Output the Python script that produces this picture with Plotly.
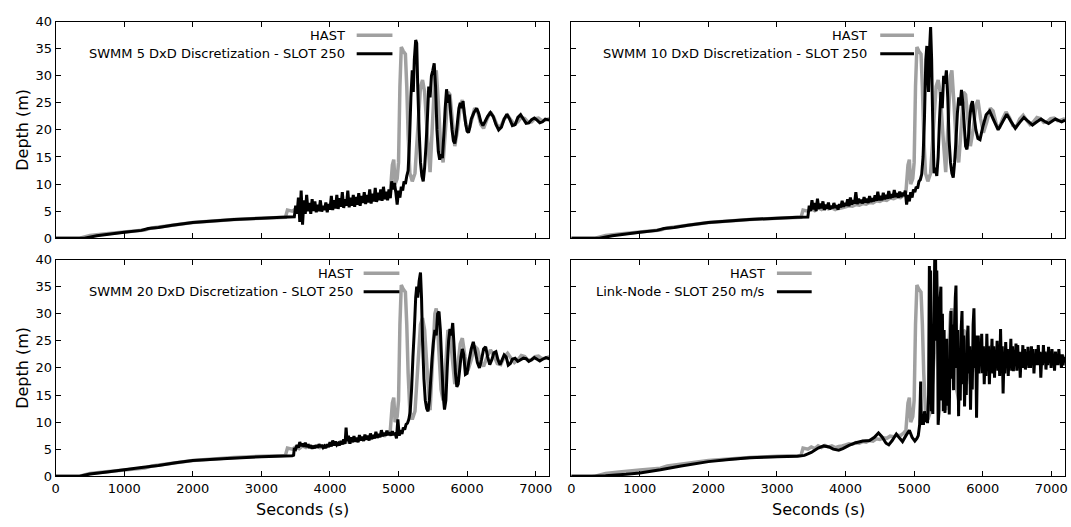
import plotly.graph_objects as go

W, H = 1071, 527

# ---------------- data ----------------
HAST = [
    (0, 0), (350, 0), (500, 0.5), (700, 0.8), (1000, 1.15), (1300, 1.5), (1400, 1.9), (1700, 2.4),
    (2000, 2.9), (2300, 3.2), (2600, 3.45), (3000, 3.7), (3350, 3.85), (3380, 5.2), (3450, 5.0),
    (3500, 5.4), (3550, 5.1), (3600, 5.6), (3650, 5.3), (3700, 5.7), (3750, 5.4), (3800, 5.6),
    (3850, 5.3), (3900, 5.5), (3950, 5.6), (4000, 5.8), (4050, 6.0), (4100, 5.9), (4150, 6.2),
    (4200, 6.1), (4250, 6.4), (4300, 6.3), (4350, 6.6), (4400, 6.5), (4450, 6.9), (4500, 6.8),
    (4550, 7.1), (4600, 7.0), (4650, 7.4), (4700, 7.3), (4750, 7.6), (4800, 7.5), (4850, 8.0),
    (4880, 8.5), (4910, 13.5), (4930, 14.5), (4950, 10), (4980, 11), (5000, 14), (5020, 28),
    (5040, 35.3), (5070, 34.5), (5100, 34), (5120, 28), (5140, 19), (5165, 12), (5200, 10.5),
    (5240, 12), (5280, 20), (5320, 28), (5350, 29.2), (5380, 27), (5420, 19), (5460, 12.2),
    (5490, 20), (5530, 30), (5550, 31), (5580, 25), (5620, 16), (5650, 14), (5690, 21), (5720, 27),
    (5750, 26.5), (5790, 21), (5820, 17), (5860, 20), (5900, 24.5), (5930, 25.5), (5970, 22),
    (6010, 19.5), (6060, 21.5), (6110, 24), (6150, 23.5), (6200, 21), (6240, 20.3), (6290, 22),
    (6340, 23.3), (6390, 22.3), (6440, 20.8), (6490, 20.6), (6540, 22), (6590, 22.7), (6640, 21.8),
    (6690, 21), (6740, 21.5), (6790, 22.3), (6840, 22.1), (6890, 21.4), (6940, 21.5), (6990, 22.1),
    (7040, 22.2), (7090, 21.7), (7140, 21.8), (7200, 22.1),
]

SWMM5 = [
    (0, 0), (420, 0), (600, 0.45), (800, 0.8), (1000, 1.1), (1250, 1.45), (1350, 1.8), (1500, 2.0),
    (1700, 2.4), (2000, 2.9), (2300, 3.2), (2600, 3.45), (3000, 3.7), (3300, 3.85), (3480, 3.95),
    (3500, 6.0), (3520, 4.5), (3540, 7.5), (3560, 3.0), (3580, 8.8), (3600, 2.5), (3620, 7.0),
    (3640, 4.5), (3660, 8.0), (3680, 5.0), (3700, 6.5), (3720, 4.5), (3740, 7.2), (3760, 5.0),
    (3780, 6.8), (3800, 4.8), (3820, 6.2), (3840, 5.0), (3860, 7.0), (3880, 4.9), (3900, 6.0),
    (3920, 5.2), (3940, 6.6), (3960, 4.8), (3980, 6.3), (4000, 5.3), (4020, 7.8), (4040, 5.2),
    (4060, 7.0), (4080, 5.5), (4100, 8.0), (4120, 5.4), (4140, 7.4), (4160, 5.8), (4180, 8.5),
    (4200, 5.6), (4220, 7.2), (4240, 6.0), (4260, 8.8), (4280, 5.7), (4300, 7.5), (4320, 6.0),
    (4340, 8.0), (4360, 5.8), (4380, 7.6), (4400, 6.2), (4420, 8.3), (4440, 6.0), (4460, 7.8),
    (4480, 6.5), (4500, 8.5), (4520, 6.3), (4540, 8.0), (4560, 6.6), (4580, 9.0), (4600, 6.4),
    (4620, 8.2), (4640, 6.8), (4660, 9.3), (4680, 6.7), (4700, 8.4), (4720, 7.0), (4740, 9.0),
    (4760, 6.9), (4780, 9.5), (4800, 7.2), (4820, 8.6), (4840, 7.0), (4860, 9.0), (4880, 7.4),
    (4900, 10.5), (4920, 9.0), (4940, 10.2), (4960, 8.5), (4980, 6.2), (5000, 8.8), (5020, 7.5),
    (5040, 9.5), (5060, 8.8), (5080, 10.5), (5100, 10.0), (5120, 11.5), (5140, 12.5), (5160, 18),
    (5180, 26), (5200, 31), (5215, 27), (5230, 33), (5250, 36.6), (5265, 36), (5280, 28), (5300, 20),
    (5320, 14), (5340, 11.5), (5360, 10.5), (5380, 13), (5400, 17), (5420, 22), (5440, 28),
    (5460, 26), (5480, 30), (5500, 31), (5520, 32.3), (5540, 28), (5560, 20), (5580, 16),
    (5600, 14.5), (5620, 15.5), (5640, 14.8), (5660, 19), (5680, 24), (5700, 27.5), (5720, 25),
    (5740, 26.5), (5760, 23), (5780, 20), (5800, 18), (5820, 17.5), (5840, 19), (5860, 21.5),
    (5880, 24), (5900, 25), (5920, 24), (5940, 25.3), (5960, 23), (5980, 21), (6000, 19.8),
    (6020, 19.5), (6040, 20.5), (6060, 22), (6100, 23.2), (6140, 24), (6170, 23), (6200, 21.5),
    (6230, 20.8), (6260, 21.5), (6300, 22.5), (6340, 23.2), (6380, 22.5), (6420, 21.0), (6460, 20.0),
    (6500, 20.5), (6540, 22), (6580, 22.9), (6620, 22), (6660, 20.8), (6700, 21), (6740, 22.3),
    (6780, 22.8), (6820, 22), (6860, 21.2), (6900, 21.3), (6940, 21.9), (6980, 22.2), (7020, 21.8),
    (7060, 21.3), (7100, 21.5), (7140, 22), (7200, 21.8),
]

SWMM10 = [
    (0, 0), (410, 0), (600, 0.45), (800, 0.8), (1000, 1.1), (1250, 1.45), (1350, 1.8), (1500, 2.0),
    (1700, 2.4), (2000, 2.9), (2300, 3.2), (2600, 3.45), (3000, 3.7), (3300, 3.85), (3450, 3.9),
    (3470, 6.0), (3490, 5.0), (3510, 7.0), (3530, 5.3), (3550, 6.5), (3570, 5.0), (3590, 7.3),
    (3610, 5.4), (3630, 6.4), (3650, 5.5), (3670, 6.8), (3690, 5.2), (3710, 6.2), (3730, 5.5),
    (3750, 6.6), (3770, 5.3), (3790, 6.0), (3810, 5.5), (3830, 6.5), (3850, 5.6), (3870, 6.1),
    (3890, 5.3), (3910, 6.3), (3930, 5.7), (3950, 6.9), (3970, 5.8), (3990, 6.5), (4010, 6.0),
    (4030, 7.2), (4050, 5.9), (4070, 7.5), (4090, 6.2), (4110, 7.0), (4130, 6.4), (4150, 8.5),
    (4170, 6.3), (4190, 7.3), (4210, 6.5), (4230, 7.1), (4250, 6.4), (4270, 7.6), (4290, 6.6),
    (4310, 7.3), (4330, 6.5), (4350, 7.8), (4370, 6.7), (4390, 7.4), (4410, 6.8), (4430, 7.9),
    (4450, 6.9), (4470, 8.6), (4490, 7.0), (4510, 7.8), (4530, 7.0), (4550, 8.4), (4570, 7.2),
    (4590, 8.0), (4610, 7.3), (4630, 8.7), (4650, 7.4), (4670, 8.1), (4690, 7.5), (4710, 8.9),
    (4730, 7.6), (4750, 8.3), (4770, 7.5), (4790, 8.6), (4810, 7.6), (4830, 8.4), (4850, 7.8),
    (4870, 8.8), (4890, 6.2), (4910, 8.0), (4930, 6.8), (4950, 8.5), (4970, 7.5), (4990, 9.0),
    (5010, 8.5), (5030, 9.5), (5050, 9.2), (5070, 10.5), (5090, 10.8), (5110, 11.8), (5130, 15),
    (5150, 22), (5170, 33), (5185, 35.5), (5200, 30), (5210, 27), (5225, 35), (5240, 39),
    (5255, 33), (5270, 22), (5290, 12), (5310, 13), (5330, 11.5), (5350, 15), (5370, 22),
    (5390, 27), (5410, 24), (5430, 30), (5450, 28.5), (5470, 31), (5490, 26), (5510, 18),
    (5530, 14), (5550, 12), (5570, 11.2), (5590, 14), (5610, 18), (5630, 23), (5650, 26),
    (5670, 24.5), (5690, 27.4), (5710, 25), (5730, 21), (5750, 17), (5770, 16.4), (5790, 18.5),
    (5810, 22), (5830, 24.5), (5850, 25.3), (5870, 23), (5900, 20), (5930, 18.4), (5960, 18.2),
    (6000, 20.5), (6050, 22.8), (6100, 23.5), (6160, 21.8), (6225, 20), (6290, 21.5), (6350, 22.9),
    (6410, 21.6), (6475, 20.3), (6540, 21.4), (6600, 22.3), (6660, 21.6), (6725, 20.9), (6790, 21.5),
    (6850, 22.0), (6900, 21.6), (6960, 21.2), (7010, 21.6), (7060, 22.0), (7110, 21.7), (7150, 21.5),
    (7200, 21.8),
]

SWMM20 = [
    (0, 0), (350, 0), (500, 0.4), (750, 0.8), (1000, 1.2), (1250, 1.6), (1500, 2.0), (1750, 2.5),
    (2000, 2.9), (2500, 3.3), (3000, 3.6), (3450, 3.8), (3470, 3.9), (3480, 5.2), (3500, 5.0),
    (3520, 5.8), (3540, 5.3), (3560, 6.3), (3580, 5.6), (3600, 6.0), (3620, 5.5), (3640, 6.2),
    (3660, 5.4), (3680, 5.9), (3700, 5.2), (3720, 5.7), (3740, 5.1), (3760, 5.6), (3780, 5.2),
    (3800, 5.7), (3820, 5.3), (3840, 5.9), (3860, 5.4), (3880, 5.8), (3900, 5.3), (3920, 5.6),
    (3940, 5.2), (3960, 5.9), (3980, 5.4), (4000, 6.3), (4020, 5.5), (4040, 6.6), (4060, 5.7),
    (4080, 6.4), (4100, 5.8), (4120, 6.1), (4140, 5.7), (4160, 6.5), (4180, 5.9), (4200, 6.8),
    (4220, 6.0), (4235, 9.0), (4250, 6.5), (4270, 7.5), (4290, 6.0), (4310, 7.2), (4330, 6.3),
    (4350, 7.4), (4370, 6.4), (4390, 7.1), (4410, 6.3), (4430, 7.6), (4450, 6.6), (4470, 7.3),
    (4490, 6.5), (4510, 7.7), (4530, 6.8), (4550, 7.5), (4570, 6.6), (4590, 7.9), (4610, 6.9),
    (4630, 7.6), (4650, 7.0), (4670, 8.2), (4690, 7.1), (4710, 7.8), (4730, 7.2), (4750, 8.5),
    (4770, 7.4), (4790, 8.0), (4810, 7.5), (4830, 8.4), (4850, 7.6), (4870, 8.1), (4890, 7.5),
    (4910, 8.3), (4930, 7.6), (4950, 8.0), (4970, 7.0), (4990, 10.5), (5010, 7.5), (5030, 8.5),
    (5050, 7.8), (5070, 9.0), (5090, 8.6), (5110, 9.6), (5130, 9.8), (5150, 10.5), (5170, 12),
    (5190, 16), (5210, 22), (5230, 27), (5250, 33), (5265, 35), (5280, 33), (5300, 36),
    (5320, 37.6), (5335, 33), (5350, 25), (5370, 18), (5390, 14), (5410, 12.5), (5430, 12),
    (5450, 14), (5470, 18), (5490, 22), (5510, 25), (5530, 27), (5550, 26), (5570, 30),
    (5590, 30.4), (5610, 27), (5630, 21), (5650, 15), (5670, 12.3), (5690, 14), (5710, 20),
    (5730, 25), (5750, 27.2), (5770, 26), (5790, 28.3), (5810, 24), (5830, 19), (5850, 16.5),
    (5870, 17), (5890, 19.5), (5910, 22), (5930, 23.5), (5950, 22.5), (5975, 18.8), (6000, 19),
    (6030, 21.5), (6060, 23.5), (6090, 24.8), (6120, 23), (6150, 21), (6180, 20), (6210, 21.5),
    (6240, 23.5), (6270, 23.9), (6300, 22), (6330, 20.6), (6360, 21.5), (6390, 22.8), (6420, 23),
    (6450, 21.5), (6480, 20.6), (6510, 21.5), (6540, 22.4), (6570, 22), (6600, 20.5), (6630, 20.8),
    (6660, 21.6), (6700, 21.8), (6740, 21.2), (6780, 21.5), (6820, 21.8), (6860, 21.7), (6900, 21.2),
    (6940, 21.5), (6980, 21.9), (7020, 21.6), (7060, 21.3), (7100, 21.6), (7150, 21.9), (7200, 21.7),
]

LINKNODE = [
    (0, 0), (300, 0), (500, 0.1), (800, 0.35), (1000, 0.6), (1300, 1.2), (1600, 1.9), (2000, 2.7),
    (2300, 3.1), (2600, 3.4), (3000, 3.6), (3300, 3.7), (3400, 3.85), (3500, 4.4), (3600, 5.2),
    (3680, 5.6), (3760, 5.4), (3820, 5.0), (3900, 4.8), (3960, 5.1), (4050, 5.7), (4150, 6.2),
    (4250, 6.5), (4350, 6.6), (4420, 7.2), (4480, 8.0), (4530, 7.3), (4590, 6.1), (4630, 5.8),
    (4680, 6.6), (4740, 7.8), (4790, 7.0), (4830, 6.4), (4880, 7.5), (4930, 8.5), (4970, 7.2),
    (5010, 6.5), (5040, 7.0), (5060, 7.5), (5080, 9.5), (5095, 17.5), (5105, 9.5), (5120, 10.5),
    (5135, 9.5), (5150, 12), (5165, 10), (5180, 11.5), (5195, 9.8), (5210, 15), (5222, 38.8),
    (5232, 30), (5240, 38), (5250, 12), (5262, 14), (5272, 11.5), (5285, 25), (5300, 40.5),
    (5312, 41.5), (5322, 25), (5330, 38), (5340, 30), (5350, 9.5), (5362, 12), (5375, 32),
    (5390, 35), (5400, 14), (5412, 30), (5425, 12), (5437, 27), (5450, 11.7), (5462, 22),
    (5475, 25.4), (5487, 13), (5500, 20), (5512, 11.4), (5525, 24), (5537, 30.5), (5550, 18),
    (5562, 28), (5575, 15.9), (5587, 27), (5600, 33), (5610, 35.2), (5622, 20), (5635, 27),
    (5648, 11.1), (5660, 22), (5672, 14), (5685, 27), (5698, 30.5), (5710, 17), (5722, 26),
    (5735, 12.9), (5748, 22), (5760, 15), (5772, 25), (5785, 27.8), (5797, 19), (5810, 24),
    (5822, 12.3), (5835, 21), (5847, 16), (5860, 28), (5872, 31), (5885, 20), (5897, 26),
    (5910, 10.8), (5922, 21), (5935, 26), (5947, 19), (5960, 24), (5972, 21.2), (5985, 26.3),
    (5997, 19), (6010, 24), (6022, 17), (6035, 23), (6047, 18.5), (6060, 26.3), (6072, 20),
    (6085, 24), (6097, 17), (6110, 22.5), (6122, 20), (6135, 25.4), (6147, 19), (6160, 24),
    (6172, 18.2), (6185, 23), (6197, 20), (6210, 25), (6222, 19.5), (6235, 23.5), (6247, 18.5),
    (6260, 27.2), (6272, 20), (6285, 24), (6297, 15.3), (6310, 22), (6322, 19), (6335, 24.8),
    (6347, 20.5), (6360, 23.5), (6372, 18.5), (6385, 22.5), (6397, 20), (6410, 25.4), (6422, 19.5),
    (6435, 24), (6447, 19.4), (6460, 23), (6472, 20.5), (6485, 24.5), (6497, 19.5), (6510, 24.2),
    (6522, 20), (6535, 23), (6547, 18.2), (6560, 22.5), (6572, 20.5), (6585, 24.2), (6597, 20),
    (6610, 23.5), (6622, 19.7), (6635, 22.5), (6647, 20.5), (6660, 23.9), (6672, 20), (6685, 23),
    (6697, 20), (6710, 24), (6722, 21), (6735, 23.5), (6747, 19), (6760, 22.5), (6772, 20.5),
    (6785, 23.5), (6797, 20.5), (6810, 24.2), (6822, 21), (6835, 23), (6847, 18.2), (6860, 22),
    (6872, 20.5), (6885, 24.2), (6897, 21), (6910, 23), (6922, 19.7), (6935, 22.5), (6947, 20.5),
    (6960, 23.9), (6972, 21), (6985, 23), (6997, 20), (7010, 23.5), (7022, 21), (7035, 22.5),
    (7047, 19.5), (7060, 23), (7072, 20.5), (7085, 22.5), (7097, 20.5), (7110, 23.5), (7122, 21),
    (7135, 22.5), (7147, 20), (7160, 22.5), (7172, 20.5), (7185, 22), (7200, 21),
]

MODEL_LABELS = [
    "SWMM 5 DxD Discretization - SLOT 250",
    "SWMM 10 DxD Discretization - SLOT 250",
    "SWMM 20 DxD Discretization - SLOT 250",
    "Link-Node - SLOT 250 m/s",
]
REF_LABEL = "HAST"
X_TICKS = [0, 1000, 2000, 3000, 4000, 5000, 6000, 7000]
Y_TICKS = [0, 5, 10, 15, 20, 25, 30, 35, 40]

# ---------------- layout helpers ----------------
FONT = "DejaVu Sans"
GRAY = "#a0a0a0"

def px_x(p):
    return p / W

def px_y(p):
    return 1 - p / H

# panel pixel boxes (left, right), (top, bottom)
COLS = [(52, 549), (571, 1068)]
ROWS = [(15, 238), (260, 483)]

# legend geometry per panel: (text right edge, sample x0, sample x1, row1 y, row2 y)
LEG = [
    (345, 355, 391, 29, 48),
    (871, 882, 916, 29, 48),
    (353, 362, 398, 274, 293),
    (768, 778, 813, 274, 293),
]

models = [SWMM5, SWMM10, SWMM20, LINKNODE]

fig = go.Figure()
layout = dict(
    width=W, height=H,
    margin=dict(l=0, r=0, t=0, b=0),
    paper_bgcolor="white", plot_bgcolor="white",
    showlegend=False,
    font=dict(family=FONT, size=13, color="black"),
)
annotations = []
shapes = []

for i in range(4):
    r, c = divmod(i, 2)
    n = i + 1
    xa = "xaxis" if n == 1 else f"xaxis{n}"
    ya = "yaxis" if n == 1 else f"yaxis{n}"
    xr = "x" if n == 1 else f"x{n}"
    yr = "y" if n == 1 else f"y{n}"
    (L, R), (T, B) = COLS[c], ROWS[r]
    common = dict(showgrid=False, zeroline=False, showline=True, linecolor="black", linewidth=1,
                  mirror="ticks", ticks="inside", ticklen=5, tickwidth=1, tickcolor="black",
                  tickfont=dict(family=FONT, size=13, color="black"))
    layout[xa] = dict(common, domain=[px_x(L), px_x(R)], range=[0, 7200], anchor=yr,
                      tickvals=X_TICKS, showticklabels=(r == 1))
    layout[ya] = dict(common, domain=[px_y(B), px_y(T)], range=[0, 40], anchor=xr,
                      tickvals=Y_TICKS, showticklabels=(c == 0))

    ht, hd = zip(*HAST)
    fig.add_trace(go.Scatter(x=ht, y=hd, mode="lines",
                             line=dict(color=GRAY, width=3.5, simplify=False),
                             xaxis=xr, yaxis=yr, name=REF_LABEL))
    mt, md = zip(*models[i])
    fig.add_trace(go.Scatter(x=mt, y=md, mode="lines",
                             line=dict(color="black", width=3, simplify=False),
                             xaxis=xr, yaxis=yr, name=MODEL_LABELS[i]))

    # gnuplot-style key: right-aligned text, sample line on the right
    tr, s0, s1, y1, y2 = LEG[i]
    for label, yy, col in [(REF_LABEL, y1, GRAY), (MODEL_LABELS[i], y2, "black")]:
        annotations.append(dict(x=px_x(tr), y=px_y(yy), xref="paper", yref="paper", text=label,
                                showarrow=False, xanchor="right", yanchor="middle",
                                font=dict(family=FONT, size=13, color="black")))
        shapes.append(dict(type="line", xref="paper", yref="paper", x0=px_x(s0), x1=px_x(s1),
                           y0=px_y(yy), y1=px_y(yy),
                           line=dict(color=col, width=3.5 if col == GRAY else 3)))

    if c == 0:
        annotations.append(dict(x=px_x(19), y=px_y((T + B) / 2), xref="paper", yref="paper",
                                text="Depth (m)", textangle=-90, showarrow=False,
                                xanchor="center", yanchor="middle",
                                font=dict(family=FONT, size=16, color="black")))
    if r == 1:
        annotations.append(dict(x=px_x((L + R) / 2), y=px_y(517), xref="paper", yref="paper",
                                text="Seconds (s)", showarrow=False,
                                xanchor="center", yanchor="middle",
                                font=dict(family=FONT, size=16, color="black")))

layout["annotations"] = annotations
layout["shapes"] = shapes
fig.update_layout(**layout)
fig.write_html("out.html")
